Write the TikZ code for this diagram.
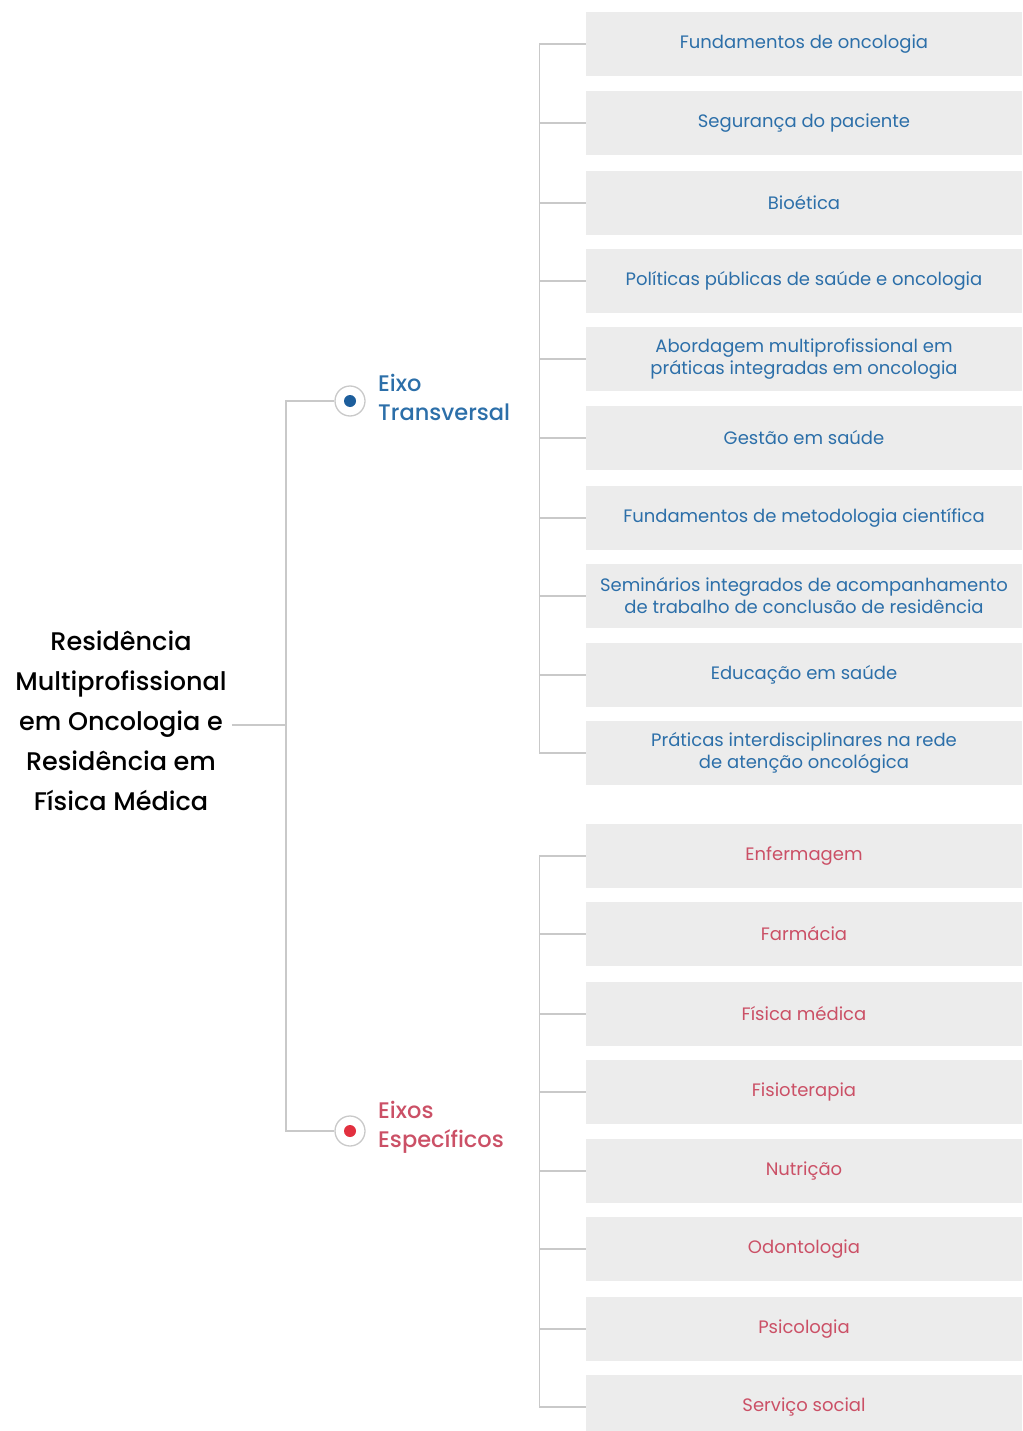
\documentclass[tikz,border=0pt]{standalone}
\usepackage{fontspec}
\setmainfont{Poppins}
\newfontfamily\medio{Poppins Medium}
\usetikzlibrary{positioning}
\definecolor{azultexto}{HTML}{2C6FA9}
\definecolor{azulponto}{HTML}{1D5E9C}
\definecolor{vermtexto}{HTML}{CB5066}
\definecolor{vermponto}{HTML}{E2303F}
\definecolor{cinzacaixa}{HTML}{ECECEC}
\definecolor{cinzalinha}{HTML}{C9C9C9}
\tikzset{
  caixa/.style={fill=cinzacaixa, minimum width=436pt, minimum height=64pt, inner sep=0pt,
    align=center, font=\fontsize{18}{22}\selectfont},
  linha/.style={draw=cinzalinha, line width=1.3pt},
  anel/.style={circle, draw=cinzalinha, line width=1.3pt, fill=white, minimum size=30pt, inner sep=0pt},
  ponto/.style={circle, minimum size=12pt, inner sep=0pt},
  eixo/.style={anchor=west, align=left, inner sep=0pt, font=\medio\fontsize{22.5}{29}\selectfont},
}
\begin{document}
\begin{tikzpicture}[x=1pt, y=-1pt]
\useasboundingbox (0,0) rectangle (1022,1431);
\clip (0,0) rectangle (1022,1431);
% titulo
\node[align=center, inner sep=5pt, font=\medio\fontsize{25.5}{40}\selectfont] (titulo) at (121,721)
  {Residência\\Multiprofissional\\em Oncologia e\\Residência em\\Física Médica};
% eixos
\node[anel] (pT) at (350,401) {};
\node[ponto, fill=azulponto] at (pT) {};
\node[eixo, text=azultexto] (lT) at (378,397) {Eixo\\Transversal};
\node[anel] (pE) at (350,1131) {};
\node[ponto, fill=vermponto] at (pE) {};
\node[eixo, text=vermtexto] (lE) at (378,1127) {Eixos\\Específicos};
\coordinate (nodo) at (286,725);
\draw[linha] (titulo.east |- nodo) -- (nodo);
\draw[linha] (nodo) |- (pT);
\draw[linha] (nodo) |- (pE);
% caixas do eixo transversal
\foreach \y/\txt [count=\i] in {44/Fundamentos de oncologia, 123/Segurança do paciente,
    203/Bioética, 281/Políticas públicas de saúde e oncologia,
    359/{Abordagem multiprofissional em\\práticas integradas em oncologia},
    438/Gestão em saúde, 518/Fundamentos de metodologia científica,
    596/{Seminários integrados de acompanhamento\\de trabalho de conclusão de residência},
    675/Educação em saúde,
    753/{Práticas interdisciplinares na rede\\de atenção oncológica}} {
  \node[caixa, text=azultexto] (t\i) at (804,\y) {\txt};
  \draw[linha] (t\i.west) -- ++(-46,0);
}
\draw[linha] (t1.west) -- ++(-46,0) |- (t10.west);
% caixas dos eixos especificos
\foreach \y/\txt [count=\i] in {856/Enfermagem, 934/Farmácia, 1014/Física médica,
    1092/Fisioterapia, 1171/Nutrição, 1249/Odontologia, 1329/Psicologia,
    1407/Serviço social} {
  \node[caixa, text=vermtexto] (e\i) at (804,\y) {\txt};
  \draw[linha] (e\i.west) -- ++(-46,0);
}
\draw[linha] (e1.west) -- ++(-46,0) |- (e8.west);
\end{tikzpicture}
\end{document}
